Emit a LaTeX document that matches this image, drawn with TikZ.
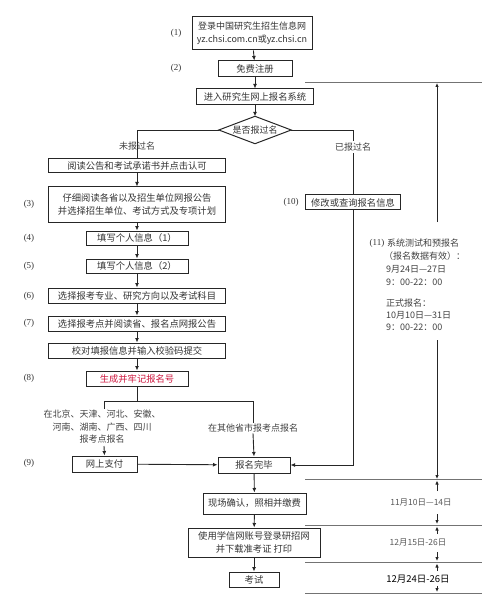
\documentclass[tikz,border=0pt]{standalone}
\usepackage{fontspec}
\setmainfont{Liberation Serif}
\newfontfamily\cjk{Noto Sans CJK SC}
\usetikzlibrary{shapes.geometric,arrows.meta}
\definecolor{redtxt}{RGB}{205,20,60}
\begin{document}
\begin{tikzpicture}[x=1pt,y=-1pt,
  box/.style={draw=black!85,line width=1pt,rectangle,inner sep=0pt,align=center,font=\cjk\fontsize{9.3}{13}\selectfont,text=black!80},
  arr/.style={line width=0.9pt,draw=black!85,-{Latex[length=4.5pt,width=4pt]}},
  ln/.style={line width=0.9pt,draw=black!85},
  lab/.style={font=\fontsize{9}{11}\selectfont,text=black!80,inner sep=0pt},
  note/.style={font=\cjk\fontsize{9}{12.5}\selectfont,text=black!75,align=center,inner sep=1pt},
  side/.style={font=\cjk\fontsize{9}{12.5}\selectfont,text=black!75,anchor=west,inner sep=0pt},
  tl/.style={line width=1pt,draw=black!55},
  tarr/.style={line width=0.9pt,draw=black!85,-{Latex[length=4pt,width=3.5pt]}},
  tlab/.style={font=\cjk\fontsize{8.5}{10}\selectfont,text=black!65,inner sep=0pt}
]
\useasboundingbox (0,0) rectangle (500,612);

% main column
\node[box,minimum width=120pt,minimum height=33pt,font=\cjk\fontsize{9}{13}\selectfont] (n1) at (252,33.5) {登录中国研究生招生信息网\\yz.chsi.com.cn或yz.chsi.cn};
\node[box,minimum width=74pt,minimum height=16pt] (n2) at (255,69) {免费注册};
\node[box,minimum width=117pt,minimum height=16pt] (n3) at (255,97) {进入研究生网上报名系统};
\node[rectangle,inner sep=0pt,minimum width=72pt,minimum height=27pt,font=\cjk\fontsize{9}{10}\selectfont,text=black!80] (dia) at (255,130) {是否报过名};
\draw[line width=1pt,draw=black!85] (dia.west) -- (dia.north) -- (dia.east) -- (dia.south) -- cycle;

\node[lab] (l1) at (176,33) {(1)};
\node[lab] (l2) at (176,68) {(2)};

\draw[arr] (n1) -- (n2);
\draw[arr] (n2) -- (n3);
\draw[arr] (n3) -- (dia.north);

% left column
\node[box,minimum width=177pt,minimum height=14pt] (n4) at (137,166) {阅读公告和考试承诺书并点击认可};
\node[box,minimum width=177pt,minimum height=35pt] (n5) at (137,204.5) {仔细阅读各省以及招生单位网报公告\\并选择招生单位、考试方式及专项计划};
\node[box,minimum width=102pt,minimum height=14pt] (n6) at (137,238) {填写个人信息（1）};
\node[box,minimum width=102pt,minimum height=14pt] (n7) at (137,266) {填写个人信息（2）};
\node[box,minimum width=177pt,minimum height=15pt] (n8) at (137,295.5) {选择报考专业、研究方向以及考试科目};
\node[box,minimum width=177pt,minimum height=15pt] (n9) at (137,323.5) {选择报考点并阅读省、报名点网报公告};
\node[box,minimum width=177pt,minimum height=15pt] (n11) at (137,350.5) {校对填报信息并输入校验码提交};
\node[box,minimum width=102pt,minimum height=15pt,text=redtxt] (n12) at (137,378.5) {生成并牢记报名号};

\node[lab] (l3) at (29,204) {(3)};
\node[lab] (l4) at (29,238) {(4)};
\node[lab] (l5) at (29,266) {(5)};
\node[lab] (l6) at (29,296) {(6)};
\node[lab] (l7) at (29,323) {(7)};
\node[lab] (l8) at (29,378) {(8)};
\node[lab] (l9) at (29,463) {(9)};

\coordinate (cl) at (137,130);
\node[note] (nwb) at (137,146) {未报过名};
\draw[ln] (dia.west) -- (cl) -- (n4.north);

\draw[arr] (n4) -- (n5);
\draw[arr] (n5) -- (n6);
\draw[arr] (n6) -- (n7);
\draw[arr] (n7) -- (n8);
\draw[arr] (n8) -- (n9);
\draw[arr] (n9) -- (n11);
\draw[arr] (n11) -- (n12);

% right branch
\node[box,minimum width=95pt,minimum height=15pt] (n10) at (353,202.5) {修改或查询报名信息};
\node[lab] (l10) at (291,202) {(10)};
\coordinate (cr) at (353,130);
\draw[ln] (dia.east) -- (cr) -- (n10.north);
\node[note,fill=white,inner sep=2pt] (ybg) at (353,147) {已报过名};

% split
\coordinate (s0) at (137,401);
\coordinate (sl) at (104,401);
\coordinate (sr) at (253,401);
\node[note] (tl1) at (102,427) {在北京、天津、河北、安徽、\\河南、湖南、广西、四川\\报考点报名};
\node[note] (tr1) at (253,428) {在其他省市报考点报名};
\draw[ln] (n12.south) -- (s0);
\draw[ln] (sl) -- (sr);
\draw[ln] (sl) -- (sl |- tl1.north);
\draw[ln] (sr) -- (tr1.north);

\node[box,minimum width=65pt,minimum height=16pt] (n13) at (104.5,464) {网上支付};
\node[box,minimum width=72pt,minimum height=16pt] (n14) at (254,465) {报名完毕};
\draw[arr] (104,446) -- (n13.north);
\draw[arr] (tr1.south) -- (n14.north);
\draw[arr] (n13) -- (n14);
\coordinate (cb) at (353,465);
\draw[arr] (n10.south) -- (cb) -- (n14.east);

\node[box,minimum width=103pt,minimum height=21pt] (n15) at (254.5,503.5) {现场确认，照相并缴费};
\node[box,minimum width=132pt,minimum height=29pt] (n16) at (254,542.5) {使用学信网账号登录研招网\\并下载准考证 打印};
\node[box,minimum width=50pt,minimum height=15pt] (n17) at (254,579.5) {考试};
\draw[arr] (n14) -- (n15);
\draw[arr] (n15) -- (n16);
\draw[arr] (n16) -- (n17);

% timeline
\coordinate (h0a) at (305,83);  \coordinate (h0b) at (482,83);
\coordinate (h1a) at (305,479); \coordinate (h1b) at (482,479);
\coordinate (h2a) at (305,525); \coordinate (h2b) at (482,525);
\coordinate (h3a) at (305,562); \coordinate (h3b) at (482,562);
\coordinate (h4a) at (305,593); \coordinate (h4b) at (482,593);
\draw[tl] (h0a) -- (h0b);
\draw[tl] (h1a) -- (h1b);
\draw[tl] (h2a) -- (h2b);
\draw[tl] (h3a) -- (h3b);
\draw[tl] (h4a) -- (h4b);

\coordinate (v0) at (437,222);
\draw[tarr] (v0) -- (v0 |- h0a);

\node[lab] (l11) at (377,243) {(11)};
\node[side] (t1) at (387,243) {系统测试和预报名};
\node[side] (t2) at (384,256) {（报名数据有效）：};
\node[side] (t3) at (386,269) {9月24日—27日};
\node[side] (t4) at (386,282) {9：00-22：00};
\node[side] (t5) at (386,303) {正式报名：};
\node[side] (t6) at (386,315) {10月10日—31日};
\node[side] (t7) at (386,327) {9：00-22：00};

\coordinate (v1) at (437,340);
\draw[tarr] (v1) -- (v1 |- h1a);
\node[tlab] (d1) at (421,502) {11月10日—14日};
\draw[tarr] (437,491) -- (437,480.5);
\draw[tarr] (437,514) -- (437,524);
\node[tlab] (d2) at (418,542) {12月15日-26日};
\draw[tarr] (437,534) -- (437,526.5);
\draw[tarr] (437,552) -- (437,561);
\node[tlab,font=\cjk\fontsize{9.5}{11}\selectfont,text=black] (d3) at (418,579) {12月24日-26日};
\draw[tarr] (437,571) -- (437,563.5);
\draw[tarr] (437,586) -- (437,592);
\end{tikzpicture}
\end{document}
